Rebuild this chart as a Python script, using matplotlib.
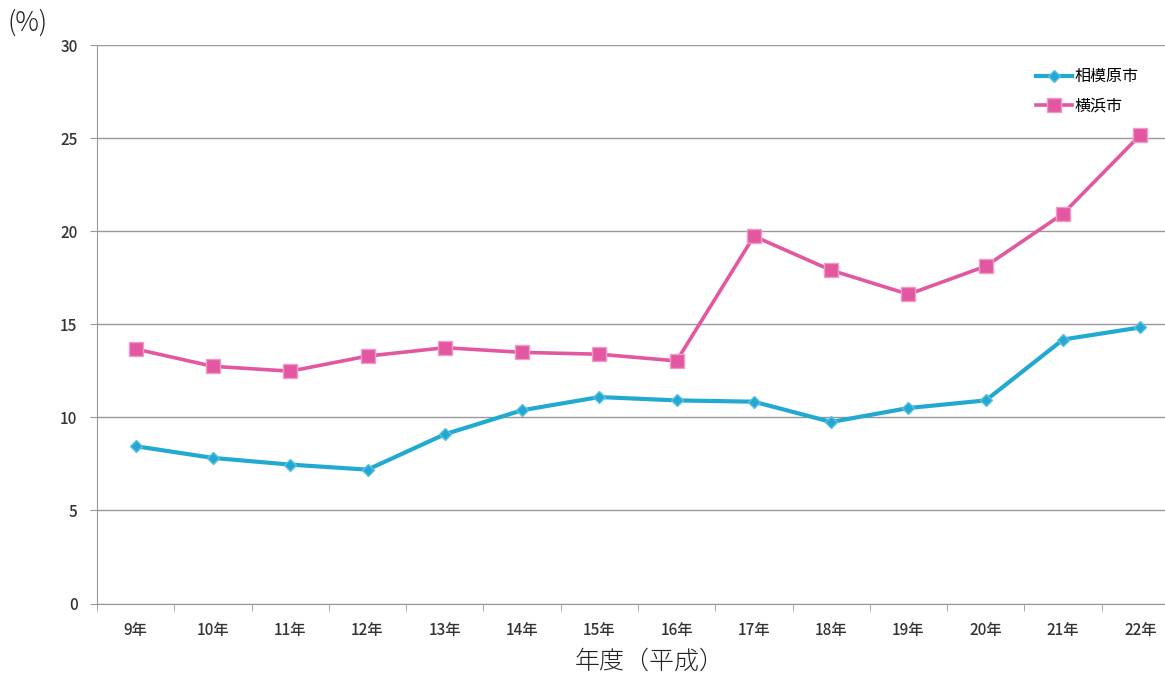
import numpy as np
import matplotlib
matplotlib.use("Agg")
import matplotlib.pyplot as plt
from matplotlib.ticker import FixedLocator, NullFormatter

plt.rcParams['font.family'] = ['Noto Sans CJK JP', 'DejaVu Sans']

# Data (percent, fiscal years Heisei 9-22).
years = ["9年", "10年", "11年", "12年", "13年", "14年", "15年",
         "16年", "17年", "18年", "19年", "20年", "21年", "22年"]
sagamihara = [8.45, 7.82, 7.46, 7.19, 9.09, 10.38, 11.09,
              10.91, 10.84, 9.75, 10.50, 10.91, 14.18, 14.83]
yokohama = [13.67, 12.74, 12.48, 13.29, 13.74, 13.49, 13.39,
            13.03, 19.73, 17.90, 16.61, 18.12, 20.94, 25.17]
series_names = ["相模原市", "横浜市"]
yticks = [0, 5, 10, 15, 20, 25, 30]

W, H = 1165, 675
fig = plt.figure(figsize=(W / 100, H / 100), dpi=100)
# plot area runs a little past the right edge of the page
left, right, top, bottom = 97, 1179, 45, 603.5
ax = fig.add_axes([left / W, (H - bottom) / H, (right - left) / W, (bottom - top) / H])

x = np.arange(len(years))
ax.plot(x, sagamihara, color='#22a9d2', lw=3, marker='D', ms=6,
        mfc='#22a9d2', mec='#5cc0e0', mew=1, label=series_names[0], zorder=3)
ax.plot(x, yokohama, color='#e2579f', lw=2.6, marker='s', ms=9.5,
        mfc='#e2579f', mec='#f09ac8', mew=1, label=series_names[1], zorder=3)

ax.set_xlim(-0.5, len(years) - 0.5)
ax.set_ylim(0, 30)
ax.set_yticks(yticks)
ax.set_xticks(x)
ax.set_xticklabels(years, fontsize=11, color='#333333', fontweight='medium')
ax.xaxis.set_minor_locator(FixedLocator(np.arange(-0.5, len(years), 1.0)))
ax.xaxis.set_minor_formatter(NullFormatter())
ax.tick_params(axis='x', which='major', length=0, pad=13)
ax.tick_params(axis='x', which='minor', length=5, color='#999999')
ax.tick_params(axis='y', length=5, color='#999999', labelsize=11,
               labelcolor='#333333', pad=9)
for lbl in ax.get_yticklabels():
    lbl.set_fontweight('medium')

ax.yaxis.grid(True, color='#999999', lw=1)
ax.set_axisbelow(True)
for s in ['top', 'right']:
    ax.spines[s].set_visible(False)
for s in ['left', 'bottom']:
    ax.spines[s].set_color('#999999')

fig.text(650 / W, 1 - 661 / H, "年度（平成）", fontsize=18, color='#222222',
         ha='center', va='center', fontweight='light')
fig.text(7 / W, 1 - 23 / H, "(%)", fontsize=19, color='#222222',
         va='center', ha='left', fontweight='light')

ax.legend(loc='upper left', bbox_to_anchor=((1030 - left) / (right - left), (bottom - 62) / (bottom - top)),
          frameon=False, fontsize=11.5, handlelength=2.2, handletextpad=0.2,
          labelspacing=0.75, borderaxespad=0)

fig.savefig('out.png', dpi=100)
